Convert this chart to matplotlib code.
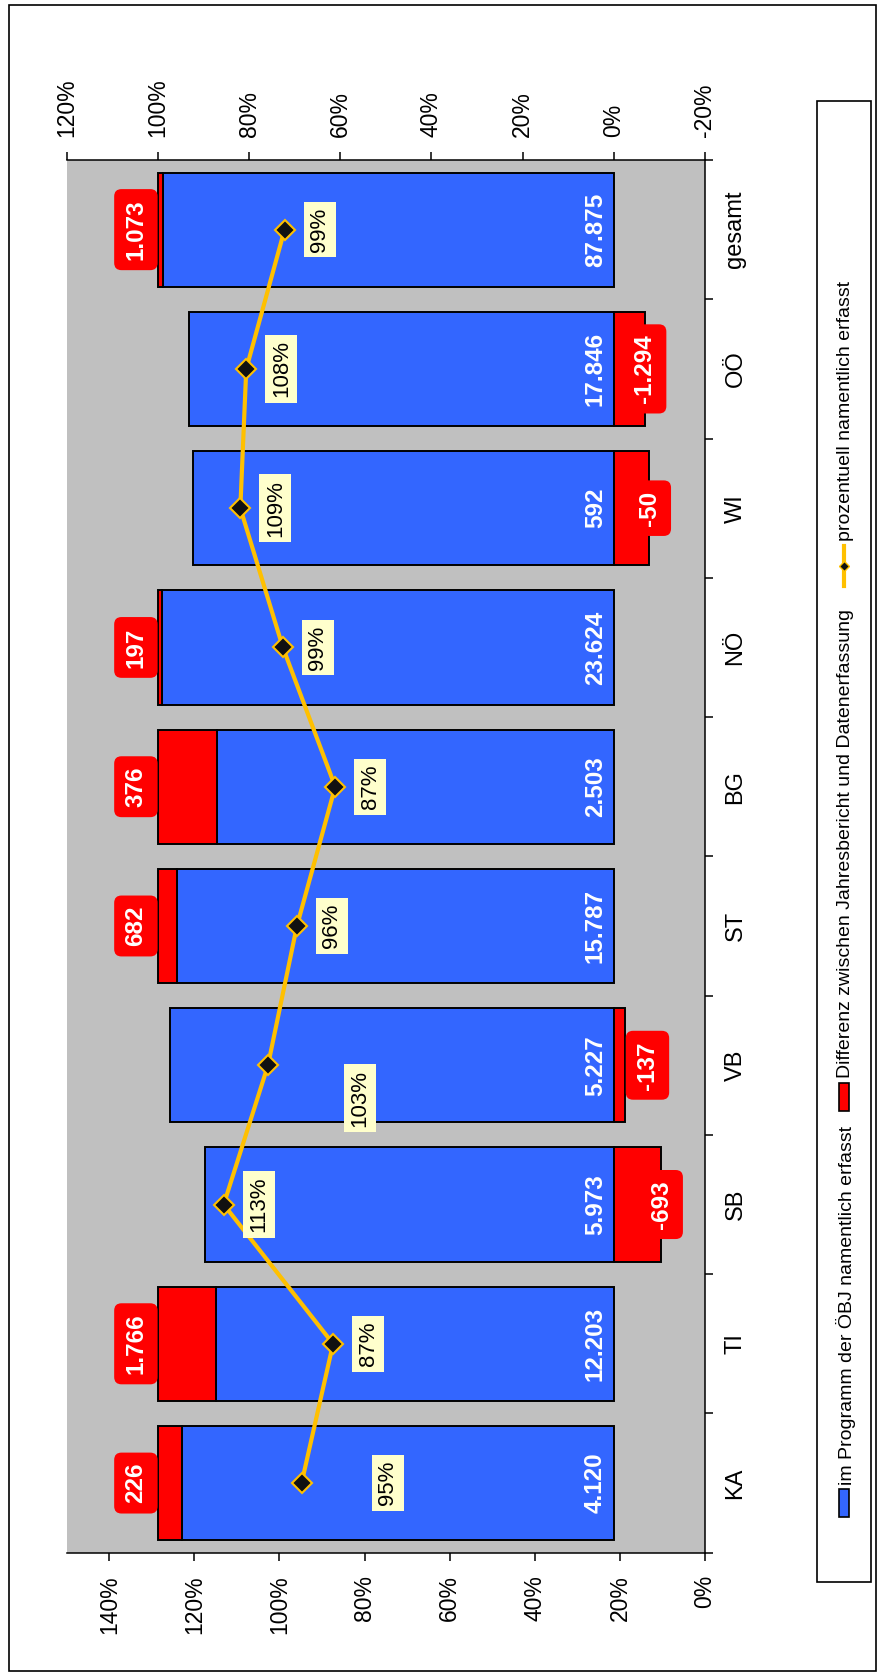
import numpy as np
import matplotlib
matplotlib.use("Agg")
import matplotlib.pyplot as plt
from matplotlib.patches import Rectangle

plt.rcParams['font.family'] = ['Liberation Sans', 'DejaVu Sans']

# data (bottom to top in the rotated picture)
categories = ['KA', 'TI', 'SB', 'VB', 'ST', 'BG', 'NÖ', 'WI', 'OÖ', 'gesamt']
erfasst = [4120, 12203, 5973, 5227, 15787, 2503, 23624, 592, 17846, 87875]
differenz = [226, 1766, -693, -137, 682, 376, 197, -50, -1294, 1073]
prozent = [94.8, 87.4, 113.1, 102.7, 95.9, 86.9, 99.2, 109.2, 107.8, 98.8]

legend_labels = ['im Programm der ÖBJ namentlich erfasst',
                 'Differenz zwischen Jahresbericht und Datenerfassung',
                 'prozentuell namentlich erfasst']

BLUE = '#3366FF'
RED = '#FF0000'
GOLD = '#FFC000'
GRAY = '#C0C0C0'
PALE = '#FFFFCC'

W, H = 877, 1677
PX = 0.72  # points per pixel at dpi 100

# label nudges (pixels) where the labels were moved by hand
pct_shift = {'KA': (86, 0), 'VB': (92, -33)}
red_shift = {'VB': (22, 0)}


def de(v):
    return f"{v:,}".replace(',', '.')


fig = plt.figure(figsize=(W / 100, H / 100), dpi=100)
left, right, top, bottom = 66.7 / W, 705 / W, 1 - 160 / H, 1 - 1552.7 / H
ax = fig.add_axes([left, bottom, right - left, top - bottom])
ax2 = ax.twiny()

y = np.arange(len(categories))
erf = np.array(erfasst, dtype=float)
dif = np.array(differenz, dtype=float)
total = np.abs(erf) + np.abs(dif)
blue_pct = 100 * erf / total
red_pct = 100 * dif / total
red_left = np.where(dif > 0, blue_pct, 0)

# bars on the secondary scale (-20% .. 120%)
ax.set_facecolor(GRAY)
ax.barh(y, blue_pct, height=0.82, color=BLUE, edgecolor='black', linewidth=1.4, zorder=2)
ax.barh(y, red_pct, left=red_left, height=0.82, color=RED, edgecolor='black',
        linewidth=1.4, zorder=2)
ax.set_xlim(120, -20)
ax.set_ylim(-0.5, len(categories) - 0.5)

ax.xaxis.tick_top()
ax.set_xticks(np.arange(-20, 121, 20))
ax.set_xticklabels([f"{v}%" for v in range(-20, 121, 20)])
ax.tick_params(axis='x', direction='out', length=5.8, width=1.1, labelsize=16.5,
               pad=10.8, labelrotation=90)

ax.yaxis.tick_right()
ax.set_yticks(y)
ax.set_yticklabels(categories)
ax.set_yticks(np.arange(-0.5, len(categories)), minor=True)
ax.tick_params(axis='y', which='major', length=0, labelsize=17, pad=14,
               labelrotation=90)
ax.tick_params(axis='y', which='minor', direction='out', length=5.8, width=1.1)
for lab in ax.get_yticklabels():
    lab.set_va('center')

for s in ['left', 'bottom']:
    ax.spines[s].set_visible(False)
for s in ['top', 'right']:
    ax.spines[s].set_linewidth(1.1)

# value labels
for i, cat in enumerate(categories):
    ax.annotate(de(erfasst[i]), (0, y[i]), xytext=(-5, 0), textcoords='offset points',
                ha='right', va='center', rotation=90, color='white',
                fontsize=17.5, fontweight='bold', zorder=4)
    if differenz[i] > 0:
        anchor, dx, dy = 100.0, -22, 0
    else:
        anchor, dx, dy = red_pct[i], 0, 0
    sx, sy = red_shift.get(cat, (0, 0))
    ax.annotate(de(differenz[i]), (anchor, y[i]),
                xytext=((dx + sx) * PX, (dy + sy) * PX), textcoords='offset points',
                ha='center', va='center', rotation=90, color='white',
                fontsize=17.5, fontweight='bold', zorder=5,
                bbox=dict(boxstyle='round,pad=0.42,rounding_size=0.3', fc=RED, ec='none'))

# line on the primary scale (0% .. 150%)
ax2.plot(prozent, y, color=GOLD, linewidth=3, marker='D', markersize=10,
         markerfacecolor='#111111', markeredgecolor=GOLD, markeredgewidth=1.5, zorder=3)
ax2.set_xlim(150, 0)
ax2.xaxis.tick_bottom()
ax2.set_xticks(np.arange(0, 141, 20))
ax2.set_xticklabels([f"{v}%" for v in range(0, 141, 20)])
ax2.tick_params(axis='x', direction='out', length=5.8, width=1.1, labelsize=16.5,
                pad=10.3, labelrotation=90)
for s in ['left', 'right', 'top']:
    ax2.spines[s].set_visible(False)
ax2.spines['bottom'].set_linewidth(1.1)

for i, cat in enumerate(categories):
    sx, sy = pct_shift.get(cat, (35, 0))
    ax2.annotate(f"{round(prozent[i])}%", (prozent[i], y[i]), xytext=(sx * PX, sy * PX),
                 textcoords='offset points', ha='center', va='center', rotation=90,
                 fontsize=16, zorder=6,
                 bbox=dict(boxstyle='square,pad=0.25', fc=PALE, ec='none'))

# overlay in pixel coordinates for frame and legend
ov = fig.add_axes([0, 0, 1, 1])
ov.set_xlim(0, W)
ov.set_ylim(H, 0)
ov.axis('off')
ov.add_patch(Rectangle((8.5, 4.5), 867, 1666.5, fill=False, ec='black', lw=1.2))
ov.add_patch(Rectangle((816.7, 101), 54.3, 1480.7, fill=False, ec='black', lw=1.2))

ov.add_patch(Rectangle((839, 1489), 10, 28, fc=BLUE, ec='black', lw=1.2))
ov.text(846, 1485, legend_labels[0], rotation=90, ha='center', va='bottom', fontsize=14)
ov.add_patch(Rectangle((839, 1083), 10, 28, fc=RED, ec='black', lw=1.2))
ov.text(846, 1078, legend_labels[1], rotation=90, ha='center', va='bottom', fontsize=14)
ov.plot([844, 844], [546, 586], color=GOLD, lw=3)
ov.plot([844], [566], marker='D', markersize=5, markerfacecolor='#111111',
        markeredgecolor=GOLD, markeredgewidth=1)
ov.text(846, 541, legend_labels[2], rotation=90, ha='center', va='bottom', fontsize=14)

fig.savefig('out.png', dpi=100)
